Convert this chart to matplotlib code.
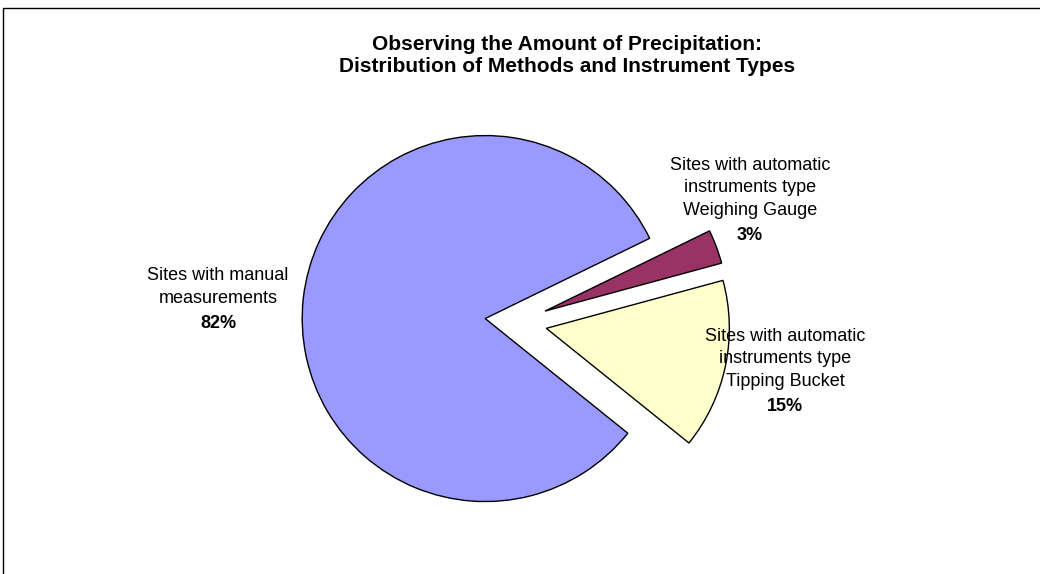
import matplotlib.pyplot as plt
from matplotlib.patches import Rectangle

# data
categories = ['Sites with manual\nmeasurements',
              'Sites with automatic\ninstruments type\nWeighing Gauge',
              'Sites with automatic\ninstruments type\nTipping Bucket']
shares = [82, 3, 15]
colors = ['#9999FF', '#993366', '#FFFFCC']
title = 'Observing the Amount of Precipitation:\nDistribution of Methods and Instrument Types'

plt.rcParams['font.family'] = ['Liberation Sans', 'DejaVu Sans']

W, H = 1040, 574
fig = plt.figure(figsize=(W / 100, H / 100), dpi=100)
ax = fig.add_axes([0, 0, 1, 1])

# frame (only top and left are visible in the reference)
fig.patches.append(Rectangle((3 / W, -0.1), 1.2, (H - 8) / H + 0.1, transform=fig.transFigure,
                             fill=False, edgecolor='#000000', linewidth=1.0))

radius = 183
wedges, _ = ax.pie(shares, colors=colors, startangle=-38.8, counterclock=False,
                   explode=[31, 31, 31], radius=radius, center=(516, H - 322),
                   wedgeprops=dict(edgecolor='black', linewidth=1.0), frame=True)
ax.set_xlim(0, W)
ax.set_ylim(0, H)
ax.set_aspect('equal')
ax.axis('off')

# label positions (centre x, first baseline y in pixels from the top)
label_pos = [(218, 280), (750, 169), (785, 340)]
step = 22.8
for cat, val, (x, y) in zip(categories, shares, label_pos):
    n = cat.count('\n') + 1
    last = y + step * (n - 1)
    # va='baseline' anchors the last line of a multi-line text
    ax.text(x, H - last, cat, ha='center', va='baseline', fontsize=13, linespacing=1.42)
    ax.text(x, H - (last + 25), f'{val}%', ha='center', va='baseline',
            fontsize=13, fontweight='bold')

ax.text(567, H - 72, title, ha='center', va='baseline', fontsize=15,
        fontweight='bold', linespacing=1.2)

fig.savefig('out.png', dpi=100)
